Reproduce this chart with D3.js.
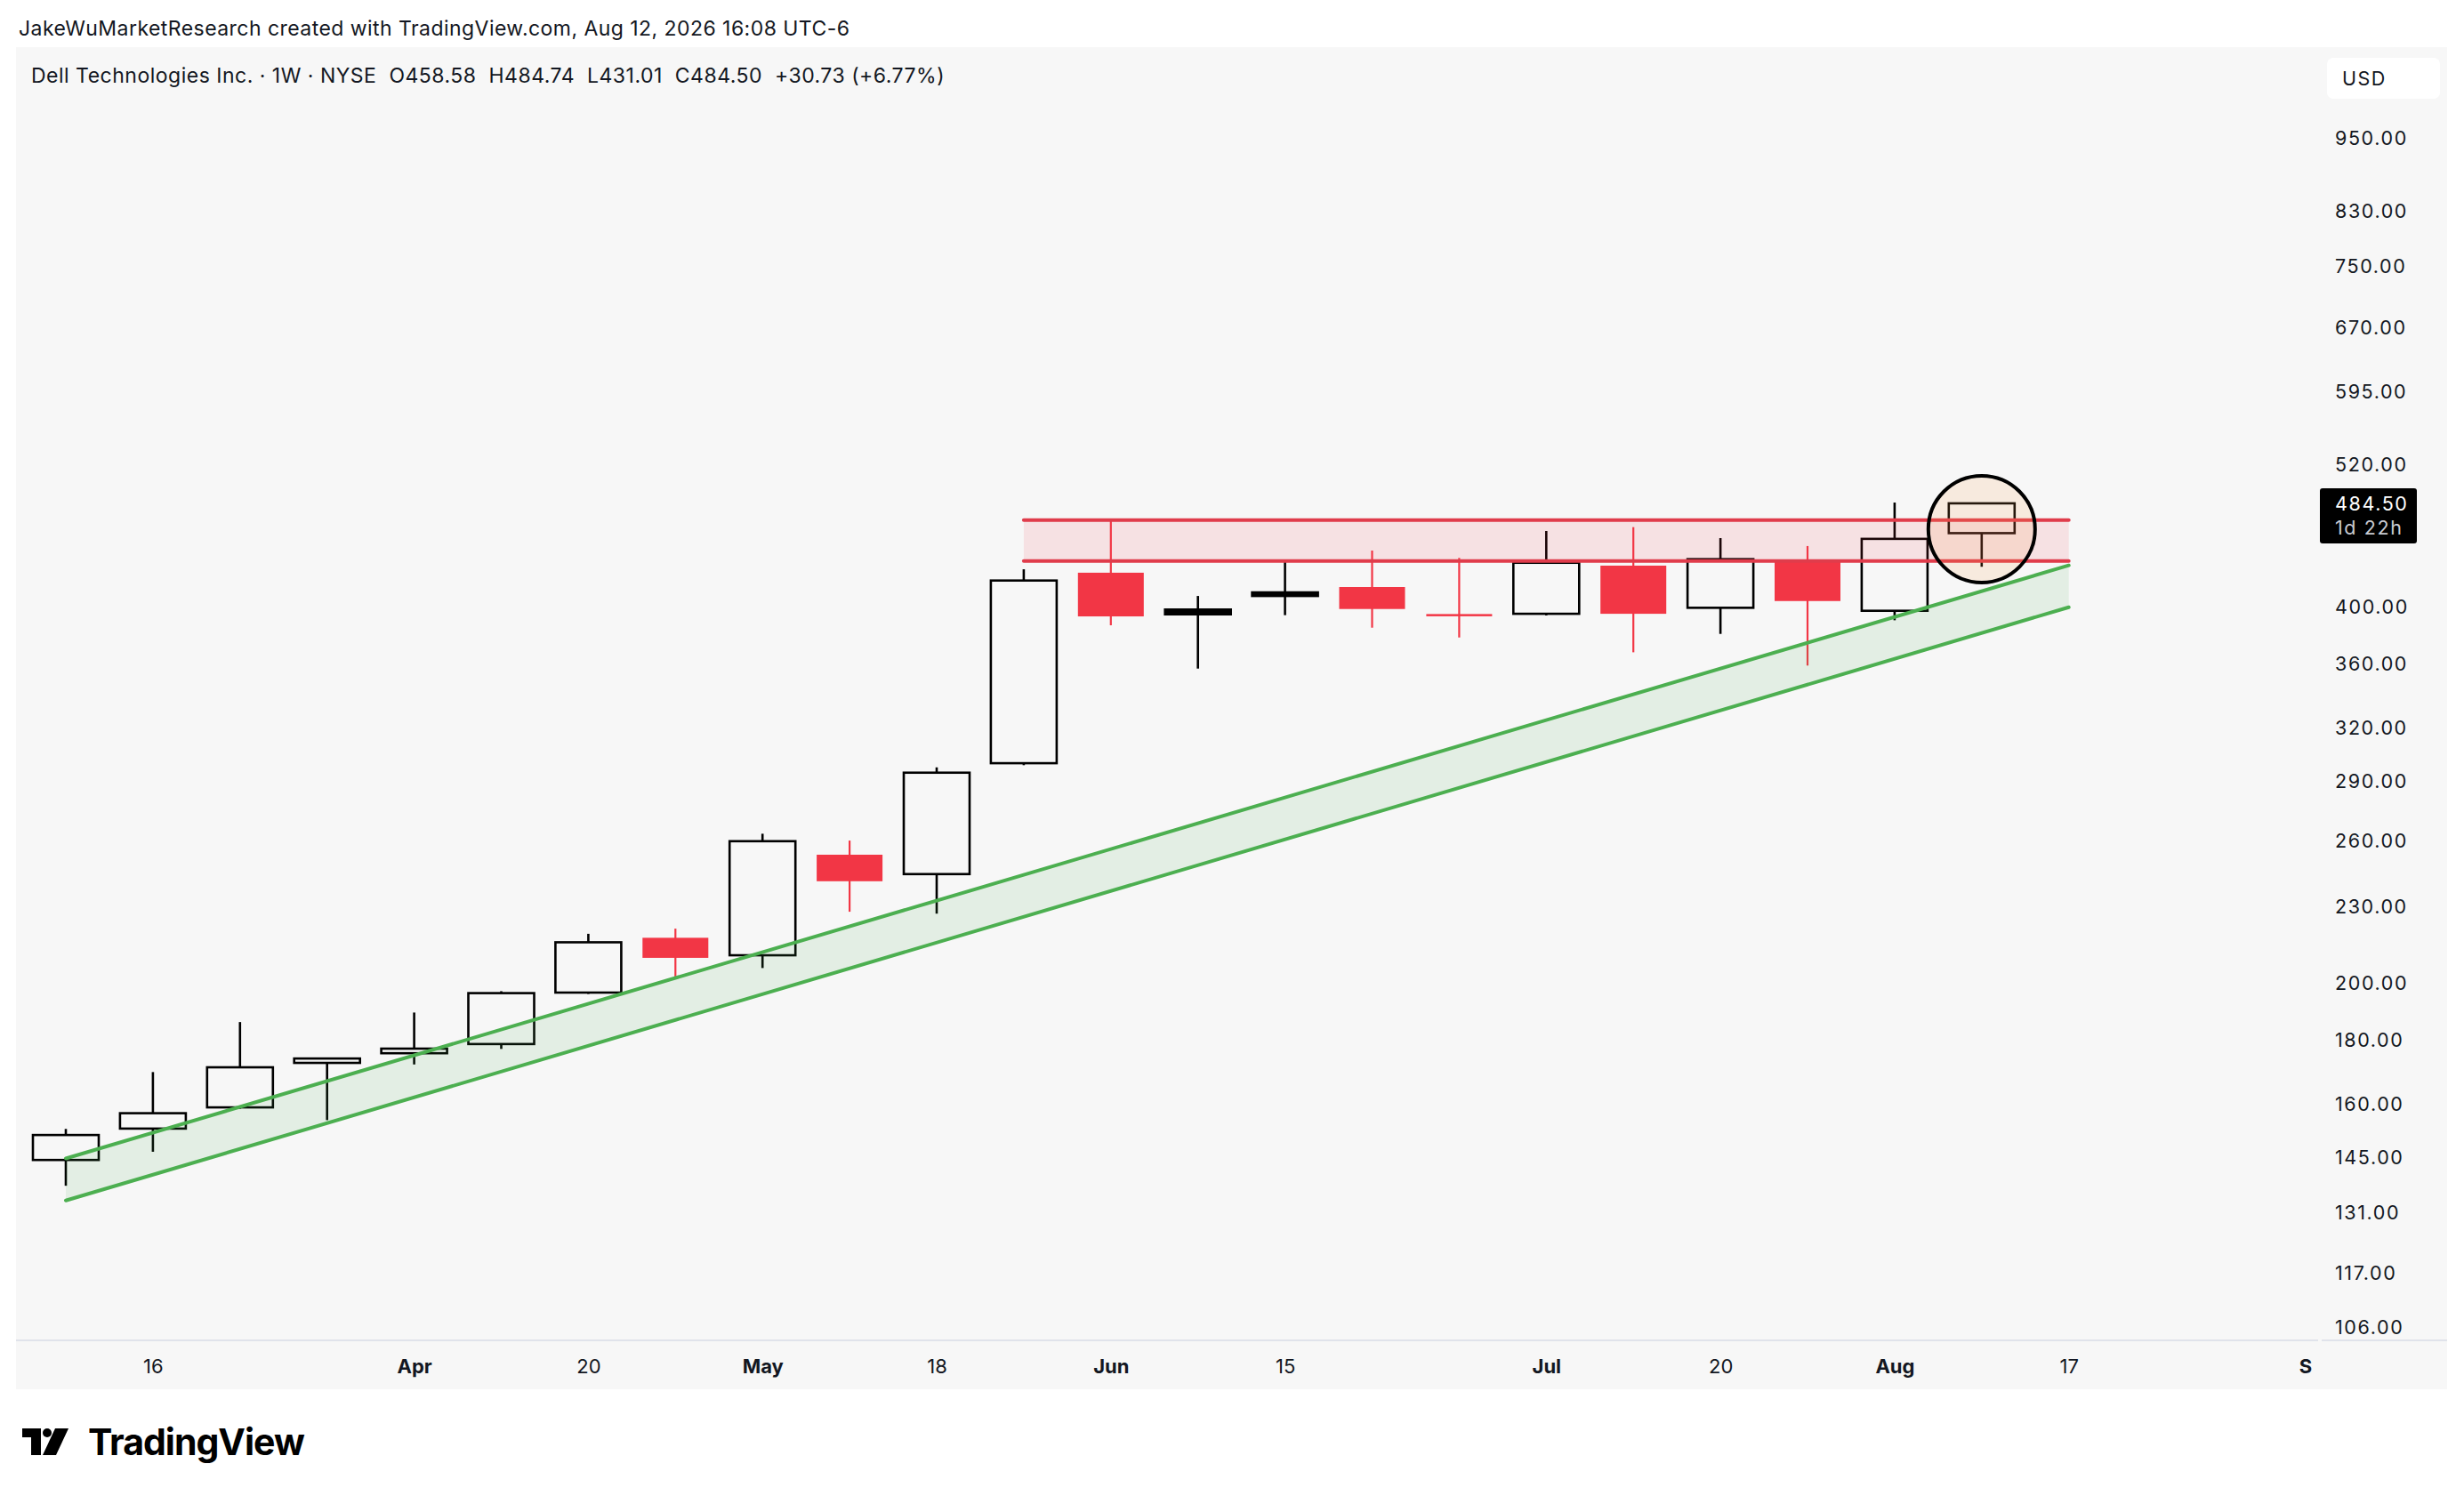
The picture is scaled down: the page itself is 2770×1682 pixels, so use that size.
<!DOCTYPE html>
<html>
<head>
<meta charset="utf-8">
<script src="https://cdn.jsdelivr.net/npm/d3@7"></script>
<style>
  body { margin: 0; background: #fff; }
  svg { display: block; }
  text { font-family: Inter, "Noto Sans", sans-serif; fill: #131722; }
</style>
</head>
<body>
<svg id="chart" width="2770" height="1682"></svg>
<script>
// weekly candles, DELL 1W (hollow candle style)
const weeks  = ["2026-03-09","2026-03-16","2026-03-23","2026-03-30","2026-04-06","2026-04-13",
                "2026-04-20","2026-04-27","2026-05-04","2026-05-11","2026-05-18","2026-05-25",
                "2026-06-01","2026-06-08","2026-06-15","2026-06-22","2026-06-29","2026-07-06",
                "2026-07-13","2026-07-20","2026-07-27","2026-08-03","2026-08-10"];
const opens  = [144.3,152.9,159.0,172.6,175.7,178.7,196.5,217.4,210.5,253.4,244.5,300.0,
                426.3,398.3,411.1,415.2,395.0,395.2,431.9,399.6,436.2,397.4,458.58];
const highs  = [152.8,169.7,186.1,174.3,189.4,197.0,219.0,221.1,263.4,260.1,297.7,429.0,
                469.6,408.4,435.5,444.1,438.1,460.4,463.7,454.4,447.8,485.2,484.74];
const lows   = [137.6,146.5,158.6,155.3,172.1,177.1,196.0,202.0,205.6,228.1,227.3,298.9,
                386.9,357.2,394.2,385.2,378.3,394.0,368.1,380.8,359.2,390.5,431.01];
const closes = [151.1,157.3,171.2,174.0,177.2,196.3,215.6,209.5,259.8,241.3,294.8,420.2,
                393.3,394.8,408.4,398.7,393.6,434.2,395.2,437.1,404.6,453.77,484.50];

const priceTicks = [950,830,750,670,595,520,400,360,320,290,260,230,200,180,160,145,131,117,106];
const timeTickDates  = ["2026-03-16","2026-04-06","2026-04-20","2026-05-04","2026-05-18","2026-06-01",
                        "2026-06-15","2026-07-06","2026-07-20","2026-08-03","2026-08-17","2026-09-05"];
const timeTickLabels = ["16","Apr","20","May","18","Jun","15","Jul","20","Aug","17","S"];
const monthLabels = ["Apr","May","Jun","Jul","Aug","S"];

// drawings
const channelDates = ["2026-03-09","2026-08-17"];
const channelUpper = [144.7, 432.1];
const channelLower = [133.9, 400.0];
const zoneDates = ["2026-05-25","2026-08-17"];
const zonePrices = [469.8, 435.7];
const markDate = "2026-08-10";
const markPrice = 462;
const lastPrice = 484.50;

const parse = d3.utcParse("%Y-%m-%d");
const svg = d3.select("#chart");

const paneL = 18, paneR = 2751, paneT = 53, paneB = 1562;
const plotR = 2606, axisY = 1507;

const x = d3.scaleUtc()
  .domain([parse("2026-03-09"), parse("2026-08-17")])
  .range([74, 74 + 23 * 97.9]);
const y = d3.scaleLog()
  .domain([950, 106])
  .range([155.5, 1492.2]);

const bodyW = 74;
const upCol = "#000", downCol = "#f23645", paneCol = "#f7f7f7";

// header
svg.append("text")
  .attr("x", 21).attr("y", 40)
  .attr("font-size", 23).attr("letter-spacing", 0.45)
  .text("JakeWuMarketResearch created with TradingView.com, Aug 12, 2026 16:08 UTC-6");

// pane
svg.append("rect")
  .attr("x", paneL).attr("y", paneT)
  .attr("width", paneR - paneL).attr("height", paneB - paneT)
  .attr("fill", paneCol);

svg.append("line")
  .attr("x1", paneL).attr("x2", plotR)
  .attr("y1", axisY).attr("y2", axisY)
  .attr("stroke", "#e0e3eb").attr("stroke-width", 2);
svg.append("line")
  .attr("x1", plotR + 4).attr("x2", paneR)
  .attr("y1", axisY).attr("y2", axisY)
  .attr("stroke", "#e0e3eb").attr("stroke-width", 2);

svg.append("clipPath").attr("id", "plotClip")
  .append("rect")
  .attr("x", paneL).attr("y", paneT)
  .attr("width", plotR - paneL).attr("height", axisY - paneT);

const plot = svg.append("g").attr("clip-path", "url(#plotClip)");

// candles: colour by close vs previous close, hollow when close > open
const candles = weeks.map((w, i) => {
  const prev = i === 0 ? opens[0] : closes[i - 1];
  return {
    date: parse(w), o: opens[i], h: highs[i], l: lows[i], c: closes[i],
    col: closes[i] >= prev ? upCol : downCol,
    hollow: closes[i] > opens[i]
  };
});

const cg = plot.selectAll("g.candle")
  .data(candles)
  .join("g")
  .attr("class", "candle");

cg.append("line")
  .attr("x1", d => x(d.date)).attr("x2", d => x(d.date))
  .attr("y1", d => y(d.h)).attr("y2", d => y(d.l))
  .attr("stroke", d => d.col)
  .attr("stroke-width", d => d.col === upCol ? 2.6 : 2.2);

cg.append("rect")
  .attr("x", d => x(d.date) - bodyW / 2)
  .attr("width", bodyW)
  .attr("y", d => y(Math.max(d.o, d.c)))
  .attr("height", d => Math.max(2.5, Math.abs(y(d.o) - y(d.c))))
  .attr("fill", d => d.hollow ? paneCol : d.col)
  .attr("stroke", d => d.hollow || d.col === upCol ? d.col : "none")
  .attr("stroke-width", 2.6);

// trend channel
const upPts = channelDates.map((d, i) => [x(parse(d)), y(channelUpper[i])]);
const loPts = channelDates.map((d, i) => [x(parse(d)), y(channelLower[i])]);
plot.append("path")
  .attr("d", d3.line()(upPts.concat(loPts.slice().reverse())) + "Z")
  .attr("fill", "rgba(76,175,80,0.11)");
[upPts, loPts].forEach(pts => {
  plot.append("path")
    .attr("d", d3.line()(pts))
    .attr("fill", "none")
    .attr("stroke", "#4caf50")
    .attr("stroke-width", 4)
    .attr("stroke-linecap", "round");
});

// resistance zone
const zx0 = x(parse(zoneDates[0])), zx1 = x(parse(zoneDates[1]));
plot.append("rect")
  .attr("x", zx0).attr("width", zx1 - zx0)
  .attr("y", y(zonePrices[0])).attr("height", y(zonePrices[1]) - y(zonePrices[0]))
  .attr("fill", "rgba(242,54,69,0.11)");
zonePrices.forEach(p => {
  plot.append("line")
    .attr("x1", zx0).attr("x2", zx1)
    .attr("y1", y(p)).attr("y2", y(p))
    .attr("stroke", "#e03c4b")
    .attr("stroke-width", 4)
    .attr("stroke-linecap", "round");
});

// highlight circle
plot.append("circle")
  .attr("cx", x(parse(markDate))).attr("cy", y(markPrice))
  .attr("r", 60)
  .attr("fill", "rgba(245,160,80,0.15)")
  .attr("stroke", "#000")
  .attr("stroke-width", 4);

// legend
svg.append("text")
  .attr("x", 35).attr("y", 93)
  .attr("font-size", 23).attr("letter-spacing", 0.5)
  .attr("xml:space", "preserve")
  .text("Dell Technologies Inc. · 1W · NYSE  O458.58  H484.74  L431.01  C484.50  +30.73 (+6.77%)");

// price axis
const yAxis = svg.append("g")
  .attr("transform", `translate(2625,0)`)
  .call(d3.axisRight(y).tickValues(priceTicks).tickFormat(d3.format(".2f")).tickSize(0).tickPadding(0));
yAxis.select(".domain").remove();
yAxis.selectAll("text")
  .attr("font-size", 21.5)
  .attr("letter-spacing", 1.6)
  .attr("font-family", "Inter, sans-serif")
  .style("fill", "#131722");

// USD box
svg.append("rect")
  .attr("x", 2616).attr("y", 65).attr("width", 127).attr("height", 46).attr("rx", 7)
  .attr("fill", "#fff");
svg.append("text")
  .attr("x", 2633).attr("y", 96)
  .attr("font-size", 21.5).attr("letter-spacing", 1.5)
  .text("USD");

// last price label
const ly = y(lastPrice);
svg.append("rect")
  .attr("x", 2608).attr("y", ly - 17).attr("width", 109).attr("height", 62).attr("rx", 3)
  .attr("fill", "#000");
svg.append("text")
  .attr("x", 2625).attr("y", ly + 8)
  .attr("font-size", 21.5).attr("letter-spacing", 1.6)
  .style("fill", "#fff")
  .text(d3.format(".2f")(lastPrice));
svg.append("text")
  .attr("x", 2625).attr("y", ly + 35)
  .attr("font-size", 21.5).attr("letter-spacing", 1.6)
  .style("fill", "#c8cbd2")
  .text("1d 22h");

// time axis
const xAxis = svg.append("g")
  .attr("transform", `translate(0,${axisY})`)
  .call(d3.axisBottom(x)
    .tickValues(timeTickDates.map(parse))
    .tickFormat((d, i) => timeTickLabels[i])
    .tickSize(0).tickPadding(21));
xAxis.select(".domain").remove();
xAxis.selectAll("text")
  .attr("font-size", 22)
  .attr("font-family", "Inter, sans-serif")
  .attr("font-weight", (d, i) => monthLabels.includes(timeTickLabels[i]) ? 700 : 400)
  .style("fill", "#131722");

// TradingView logo
const logo = svg.append("g").attr("transform", "translate(25,1606)");
logo.append("path").attr("d", "M0 0 H21 V30 H10 V10 H0 Z").attr("fill", "#000");
logo.append("circle").attr("cx", 28).attr("cy", 5).attr("r", 5).attr("fill", "#000");
logo.append("path").attr("d", "M37 0 H52 L38 30 H23 Z").attr("fill", "#000");
svg.append("text")
  .attr("x", 99).attr("y", 1636)
  .attr("font-size", 41).attr("font-weight", 700).attr("letter-spacing", -1)
  .style("fill", "#000")
  .text("TradingView");
</script>
</body>
</html>
